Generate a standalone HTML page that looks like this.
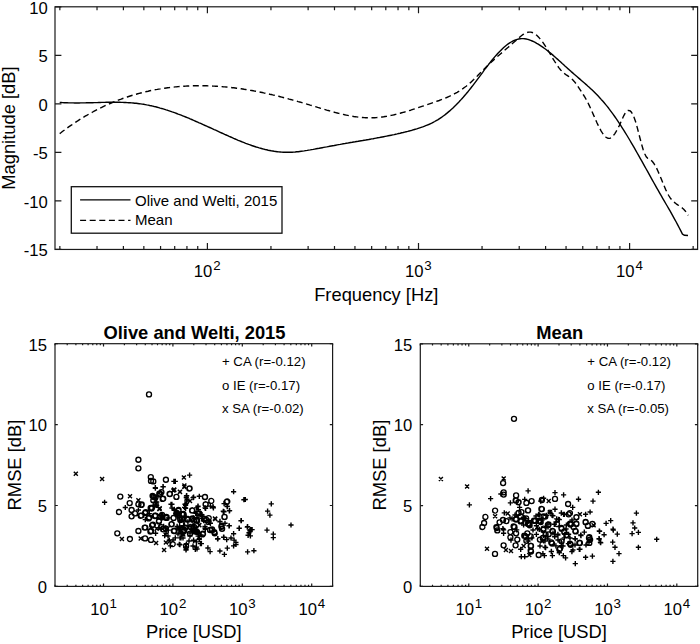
<!DOCTYPE html><html><head><meta charset="utf-8"><style>html,body{margin:0;padding:0;background:#fff}svg{display:block}text{font-family:"Liberation Sans",sans-serif;fill:#000}</style></head><body>
<svg width="700" height="644" viewBox="0 0 700 644">
<rect width="700" height="644" fill="#fff"/>
<rect x="55" y="6.8" width="642.6" height="242.65" fill="none" stroke="#1a1a1a" stroke-width="1.2"/>
<path d="M55 249.45h6.4M697.6 249.45h-6.4M55 200.92h6.4M697.6 200.92h-6.4M55 152.39h6.4M697.6 152.39h-6.4M55 103.86h6.4M697.6 103.86h-6.4M55 55.33h6.4M697.6 55.33h-6.4M55 6.8h6.4M697.6 6.8h-6.4M59.85 249.45v-3.5M59.85 6.8v3.5M97.02 249.45v-3.5M97.02 6.8v3.5M123.39 249.45v-3.5M123.39 6.8v3.5M143.85 249.45v-3.5M143.85 6.8v3.5M160.57 249.45v-3.5M160.57 6.8v3.5M174.7 249.45v-3.5M174.7 6.8v3.5M186.94 249.45v-3.5M186.94 6.8v3.5M197.74 249.45v-3.5M197.74 6.8v3.5M207.4 249.45v-6.4M207.4 6.8v6.4M270.95 249.45v-3.5M270.95 6.8v3.5M308.12 249.45v-3.5M308.12 6.8v3.5M334.49 249.45v-3.5M334.49 6.8v3.5M354.95 249.45v-3.5M354.95 6.8v3.5M371.67 249.45v-3.5M371.67 6.8v3.5M385.8 249.45v-3.5M385.8 6.8v3.5M398.04 249.45v-3.5M398.04 6.8v3.5M408.84 249.45v-3.5M408.84 6.8v3.5M418.5 249.45v-6.4M418.5 6.8v6.4M482.05 249.45v-3.5M482.05 6.8v3.5M519.22 249.45v-3.5M519.22 6.8v3.5M545.59 249.45v-3.5M545.59 6.8v3.5M566.05 249.45v-3.5M566.05 6.8v3.5M582.77 249.45v-3.5M582.77 6.8v3.5M596.9 249.45v-3.5M596.9 6.8v3.5M609.14 249.45v-3.5M609.14 6.8v3.5M619.94 249.45v-3.5M619.94 6.8v3.5M629.6 249.45v-6.4M629.6 6.8v6.4M693.15 249.45v-3.5M693.15 6.8v3.5" fill="none" stroke="#1a1a1a" stroke-width="1.2"/>
<text x="47.8" y="256.25" font-size="16.67" text-anchor="end">-15</text>
<text x="47.8" y="207.72" font-size="16.67" text-anchor="end">-10</text>
<text x="47.8" y="159.19" font-size="16.67" text-anchor="end">-5</text>
<text x="47.8" y="110.66" font-size="16.67" text-anchor="end">0</text>
<text x="47.8" y="62.13" font-size="16.67" text-anchor="end">5</text>
<text x="47.8" y="13.6" font-size="16.67" text-anchor="end">10</text>
<text x="212.4" y="277.15" font-size="16.67" text-anchor="end">10</text><text x="213.2" y="269.75" font-size="13.3">2</text>
<text x="423.5" y="277.15" font-size="16.67" text-anchor="end">10</text><text x="424.3" y="269.75" font-size="13.3">3</text>
<text x="634.6" y="277.15" font-size="16.67" text-anchor="end">10</text><text x="635.4" y="269.75" font-size="13.3">4</text>
<text x="376.3" y="301" font-size="18.33" text-anchor="middle">Frequency [Hz]</text>
<text transform="translate(15.2 128.12) rotate(-90)" font-size="18.33" text-anchor="middle">Magnitude [dB]</text>
<path d="M59.7 102.4 61.2 102.5 62.7 102.6 64.2 102.7 65.7 102.7 67.2 102.8 68.7 102.9 70.2 102.9 71.7 102.9 73.2 102.9 74.7 103.0 76.2 103.0 77.7 103.0 79.2 103.0 80.7 102.9 82.2 102.9 83.7 102.9 85.2 102.9 86.7 102.8 88.2 102.8 89.7 102.8 91.2 102.7 92.7 102.7 94.2 102.6 95.7 102.6 97.2 102.6 98.7 102.5 100.2 102.5 101.7 102.4 103.2 102.4 104.7 102.4 106.2 102.3 107.7 102.3 109.2 102.3 110.7 102.3 112.2 102.3 113.7 102.3 115.2 102.3 116.7 102.3 118.2 102.3 119.7 102.3 121.2 102.4 122.7 102.4 124.2 102.5 125.7 102.5 127.2 102.6 128.7 102.7 130.2 102.8 131.7 102.9 133.2 103.0 134.7 103.2 136.2 103.3 137.7 103.5 139.2 103.7 140.7 103.9 142.2 104.1 143.7 104.3 145.2 104.6 146.7 104.9 148.2 105.1 149.7 105.5 151.2 105.8 152.7 106.1 154.2 106.5 155.7 106.8 157.2 107.2 158.7 107.6 160.2 108.1 161.7 108.5 163.2 108.9 164.7 109.4 166.2 109.9 167.7 110.3 169.2 110.8 170.7 111.3 172.2 111.9 173.7 112.4 175.2 112.9 176.7 113.5 178.2 114.1 179.7 114.6 181.2 115.2 182.7 115.8 184.2 116.4 185.7 117.0 187.2 117.6 188.7 118.2 190.2 118.9 191.7 119.5 193.2 120.2 194.7 120.8 196.2 121.5 197.7 122.1 199.2 122.8 200.7 123.4 202.2 124.1 203.7 124.8 205.2 125.5 206.7 126.1 208.2 126.8 209.7 127.5 211.2 128.2 212.7 128.9 214.2 129.6 215.7 130.2 217.2 130.9 218.7 131.6 220.2 132.3 221.7 133.0 223.2 133.7 224.7 134.4 226.2 135.0 227.7 135.7 229.2 136.4 230.7 137.0 232.2 137.7 233.7 138.4 235.2 139.0 236.7 139.6 238.2 140.3 239.7 140.9 241.2 141.5 242.7 142.1 244.2 142.7 245.7 143.3 247.2 143.8 248.7 144.4 250.2 144.9 251.7 145.5 253.2 146.0 254.7 146.5 256.2 147.0 257.7 147.4 259.2 147.9 260.7 148.3 262.2 148.7 263.7 149.1 265.2 149.5 266.7 149.8 268.2 150.2 269.7 150.5 271.2 150.8 272.7 151.0 274.2 151.3 275.7 151.5 277.2 151.7 278.7 151.9 280.2 152.0 281.7 152.1 283.2 152.2 284.7 152.3 286.2 152.3 287.7 152.3 289.2 152.3 290.7 152.2 292.2 152.2 293.7 152.1 295.2 152.0 296.7 151.8 298.2 151.7 299.7 151.5 301.2 151.3 302.7 151.1 304.2 150.9 305.7 150.6 307.2 150.4 308.7 150.1 310.2 149.9 311.7 149.6 313.2 149.4 314.7 149.1 316.2 148.8 317.7 148.5 319.2 148.3 320.7 148.0 322.2 147.7 323.7 147.4 325.2 147.1 326.7 146.9 328.2 146.6 329.7 146.3 331.2 146.0 332.7 145.7 334.2 145.5 335.7 145.2 337.2 144.9 338.7 144.6 340.2 144.4 341.7 144.1 343.2 143.8 344.7 143.6 346.2 143.3 347.7 143.1 349.2 142.8 350.7 142.5 352.2 142.3 353.7 142.0 355.2 141.8 356.7 141.5 358.2 141.3 359.7 141.0 361.2 140.7 362.7 140.5 364.2 140.2 365.7 140.0 367.2 139.7 368.7 139.5 370.2 139.2 371.7 138.9 373.2 138.7 374.7 138.4 376.2 138.1 377.7 137.8 379.2 137.6 380.7 137.3 382.2 137.0 383.7 136.7 385.2 136.4 386.7 136.1 388.2 135.8 389.7 135.5 391.2 135.2 392.7 134.9 394.2 134.6 395.7 134.2 397.2 133.9 398.7 133.5 400.2 133.2 401.7 132.8 403.2 132.5 404.7 132.1 406.2 131.7 407.7 131.4 409.2 131.0 410.7 130.6 412.2 130.2 413.7 129.7 415.2 129.3 416.7 128.9 418.2 128.4 419.7 127.9 421.2 127.4 422.7 126.9 424.2 126.3 425.7 125.7 427.2 125.1 428.7 124.5 430.2 123.8 431.7 123.1 433.2 122.3 434.7 121.5 436.2 120.6 437.7 119.8 439.2 118.8 440.7 117.8 442.2 116.8 443.7 115.7 445.2 114.6 446.7 113.4 448.2 112.1 449.7 110.9 451.2 109.5 452.7 108.2 454.2 106.7 455.7 105.3 457.2 103.7 458.7 102.2 460.2 100.6 461.7 98.9 463.2 97.3 464.7 95.5 466.2 93.8 467.7 92.0 469.2 90.1 470.7 88.2 472.2 86.3 473.7 84.3 475.2 82.3 476.7 80.3 478.2 78.3 479.7 76.3 481.2 74.3 482.7 72.3 484.2 70.2 485.7 68.2 487.2 66.3 488.7 64.3 490.2 62.4 491.7 60.5 493.2 58.7 494.7 56.9 496.2 55.2 497.7 53.5 499.2 51.9 500.7 50.4 502.2 48.9 503.7 47.5 505.2 46.2 506.7 45.0 508.2 43.9 509.7 42.9 511.2 42.0 512.7 41.2 514.2 40.5 515.7 39.9 517.2 39.4 518.7 39.0 520.2 38.8 521.7 38.6 523.2 38.6 524.7 38.8 526.2 39.0 527.7 39.4 529.2 39.8 530.7 40.4 532.2 41.0 533.7 41.7 535.2 42.4 536.7 43.3 538.2 44.1 539.7 45.1 541.2 46.1 542.7 47.1 544.2 48.2 545.7 49.3 547.2 50.5 548.7 51.7 550.2 52.9 551.7 54.1 553.2 55.4 554.7 56.7 556.2 58.1 557.7 59.4 559.2 60.7 560.7 62.1 562.2 63.5 563.7 64.8 565.2 66.2 566.7 67.5 568.2 68.9 569.7 70.2 571.2 71.6 572.7 72.9 574.2 74.2 575.7 75.5 577.2 76.8 578.7 78.1 580.2 79.4 581.7 80.7 583.2 82.0 584.7 83.3 586.2 84.6 587.7 86.0 589.2 87.3 590.7 88.7 592.2 90.1 593.7 91.6 595.2 93.1 596.7 94.6 598.2 96.1 599.7 97.7 601.2 99.4 602.7 101.0 604.2 102.8 605.7 104.6 607.2 106.4 608.7 108.3 610.2 110.3 611.7 112.3 613.2 114.3 614.7 116.5 616.2 118.6 617.7 120.8 619.2 123.1 620.7 125.4 622.2 127.8 623.7 130.1 625.2 132.6 626.7 135.0 628.2 137.5 629.7 140.0 631.2 142.6 632.7 145.1 634.2 147.7 635.7 150.3 637.2 153.0 638.7 155.6 640.2 158.3 641.7 160.9 643.2 163.6 644.7 166.3 646.2 169.0 647.7 171.7 649.2 174.4 650.7 177.1 652.2 179.8 653.7 182.5 655.2 185.1 656.7 187.8 658.2 190.4 659.7 193.1 661.2 195.7 662.7 198.3 664.2 200.9 665.7 203.5 667.2 206.0 668.7 208.6 670.2 211.2 671.7 213.9 673.2 216.6 674.7 219.3 676.2 222.0 677.7 224.8 679.2 227.7 680.7 230.6 682.2 233.6 682.5 234.2 L684.5 235.3 L688 235.5" fill="none" stroke="#000" stroke-width="1.4" stroke-linejoin="round"/>
<path d="M59.7 133.6 61.2 132.5 62.7 131.3 64.2 130.2 65.7 129.1 67.2 128.0 68.7 126.9 70.2 125.9 71.7 124.9 73.2 123.8 74.7 122.8 76.2 121.8 77.7 120.9 79.2 119.9 80.7 119.0 82.2 118.0 83.7 117.1 85.2 116.2 86.7 115.4 88.2 114.5 89.7 113.6 91.2 112.8 92.7 112.0 94.2 111.2 95.7 110.4 97.2 109.6 98.7 108.8 100.2 108.1 101.7 107.4 103.2 106.6 104.7 105.9 106.2 105.2 107.7 104.6 109.2 103.9 110.7 103.3 112.2 102.6 113.7 102.0 115.2 101.4 116.7 100.8 118.2 100.2 119.7 99.6 121.2 99.1 122.7 98.5 124.2 98.0 125.7 97.5 127.2 97.0 128.7 96.5 130.2 96.0 131.7 95.5 133.2 95.1 134.7 94.6 136.2 94.2 137.7 93.8 139.2 93.4 140.7 93.0 142.2 92.6 143.7 92.2 145.2 91.9 146.7 91.5 148.2 91.2 149.7 90.8 151.2 90.5 152.7 90.2 154.2 89.9 155.7 89.6 157.2 89.4 158.7 89.1 160.2 88.9 161.7 88.6 163.2 88.4 164.7 88.2 166.2 88.0 167.7 87.8 169.2 87.6 170.7 87.4 172.2 87.2 173.7 87.1 175.2 86.9 176.7 86.8 178.2 86.6 179.7 86.5 181.2 86.4 182.7 86.3 184.2 86.2 185.7 86.1 187.2 86.0 188.7 86.0 190.2 85.9 191.7 85.9 193.2 85.8 194.7 85.8 196.2 85.8 197.7 85.8 199.2 85.7 200.7 85.8 202.2 85.8 203.7 85.8 205.2 85.8 206.7 85.8 208.2 85.9 209.7 85.9 211.2 86.0 212.7 86.1 214.2 86.1 215.7 86.2 217.2 86.3 218.7 86.4 220.2 86.5 221.7 86.6 223.2 86.8 224.7 86.9 226.2 87.0 227.7 87.2 229.2 87.3 230.7 87.5 232.2 87.7 233.7 87.8 235.2 88.0 236.7 88.2 238.2 88.4 239.7 88.6 241.2 88.8 242.7 89.0 244.2 89.3 245.7 89.5 247.2 89.7 248.7 90.0 250.2 90.3 251.7 90.5 253.2 90.8 254.7 91.1 256.2 91.3 257.7 91.6 259.2 91.9 260.7 92.2 262.2 92.5 263.7 92.9 265.2 93.2 266.7 93.5 268.2 93.8 269.7 94.2 271.2 94.5 272.7 94.9 274.2 95.2 275.7 95.6 277.2 96.0 278.7 96.3 280.2 96.7 281.7 97.1 283.2 97.5 284.7 97.9 286.2 98.2 287.7 98.6 289.2 99.1 290.7 99.5 292.2 99.9 293.7 100.3 295.2 100.7 296.7 101.1 298.2 101.6 299.7 102.0 301.2 102.4 302.7 102.9 304.2 103.3 305.7 103.7 307.2 104.2 308.7 104.6 310.2 105.1 311.7 105.5 313.2 106.0 314.7 106.5 316.2 106.9 317.7 107.4 319.2 107.8 320.7 108.3 322.2 108.7 323.7 109.2 325.2 109.6 326.7 110.1 328.2 110.5 329.7 110.9 331.2 111.4 332.7 111.8 334.2 112.2 335.7 112.6 337.2 113.0 338.7 113.4 340.2 113.7 341.7 114.1 343.2 114.4 344.7 114.8 346.2 115.1 347.7 115.4 349.2 115.7 350.7 116.0 352.2 116.2 353.7 116.5 355.2 116.7 356.7 116.9 358.2 117.1 359.7 117.3 361.2 117.4 362.7 117.5 364.2 117.6 365.7 117.7 367.2 117.8 368.7 117.8 370.2 117.8 371.7 117.8 373.2 117.7 374.7 117.7 376.2 117.6 377.7 117.5 379.2 117.3 380.7 117.2 382.2 117.0 383.7 116.8 385.2 116.5 386.7 116.3 388.2 116.0 389.7 115.7 391.2 115.4 392.7 115.1 394.2 114.8 395.7 114.4 397.2 114.0 398.7 113.6 400.2 113.2 401.7 112.8 403.2 112.4 404.7 112.0 406.2 111.5 407.7 111.1 409.2 110.6 410.7 110.2 412.2 109.7 413.7 109.2 415.2 108.7 416.7 108.2 418.2 107.7 419.7 107.2 421.2 106.7 422.7 106.2 424.2 105.7 425.7 105.1 427.2 104.6 428.7 104.1 430.2 103.6 431.7 103.1 433.2 102.6 434.7 102.1 436.2 101.5 437.7 101.0 439.2 100.5 440.7 99.9 442.2 99.3 443.7 98.7 445.2 98.1 446.7 97.5 448.2 96.8 449.7 96.2 451.2 95.5 452.7 94.7 454.2 93.9 455.7 93.1 457.2 92.3 458.7 91.4 460.2 90.4 461.7 89.4 463.2 88.4 464.7 87.3 466.2 86.2 467.7 85.0 469.2 83.7 470.7 82.4 472.2 81.0 473.7 79.6 475.2 78.1 476.7 76.7 478.2 75.1 479.7 73.6 481.2 72.1 482.7 70.5 484.2 69.0 485.7 67.5 487.2 66.0 488.7 64.6 490.2 63.1 491.7 61.7 493.2 60.4 494.7 59.0 496.2 57.7 497.7 56.3 499.2 55.0 500.7 53.7 502.2 52.4 503.7 51.1 505.2 49.8 506.7 48.5 508.2 47.3 509.7 46.0 511.2 44.7 512.7 43.3 514.2 42.0 515.7 40.7 517.2 39.3 518.7 38.0 520.2 36.7 521.7 35.5 523.2 34.4 524.7 33.5 526.2 32.8 527.7 32.3 529.2 32.1 530.7 32.1 532.2 32.5 533.7 33.2 535.2 34.1 536.7 35.3 538.2 36.7 539.7 38.4 541.2 40.2 542.7 42.2 544.2 44.4 545.7 46.6 547.2 49.0 548.7 51.5 550.2 54.0 551.7 56.6 553.2 59.1 554.7 61.5 556.2 63.9 557.7 66.1 559.2 68.1 560.7 70.0 562.2 71.6 563.7 72.9 565.2 74.1 566.7 75.2 568.2 76.2 569.7 77.2 571.2 78.4 572.7 79.8 574.2 81.4 575.7 83.3 577.2 85.4 578.7 87.7 580.2 89.9 581.7 92.2 583.2 94.5 584.7 96.9 586.2 99.5 587.7 102.3 589.2 105.4 590.7 108.6 592.2 112.0 593.7 115.4 595.2 118.8 596.7 122.2 598.2 125.4 599.7 128.4 601.2 131.1 602.7 133.5 604.2 135.5 605.7 137.0 607.2 138.0 608.7 138.4 610.2 138.2 611.7 137.3 613.2 135.8 614.7 133.8 616.2 131.4 617.7 128.7 619.2 125.7 620.7 122.4 622.2 119.1 623.7 115.8 625.2 113.1 626.7 111.2 628.2 110.4 629.7 110.6 631.2 111.9 632.7 114.2 634.2 117.7 635.7 122.1 637.2 127.4 638.7 133.2 640.2 139.0 641.7 144.6 643.2 149.7 644.7 153.8 646.2 156.7 647.7 158.3 649.2 159.3 650.7 160.1 652.2 161.3 653.7 163.2 655.2 165.6 656.7 168.4 658.2 171.7 659.7 175.2 661.2 178.8 662.7 182.5 664.2 186.1 665.7 189.6 667.2 192.7 668.7 195.5 670.2 197.9 671.7 199.8 673.2 201.3 674.7 202.6 676.2 203.8 677.7 204.8 679.2 205.7 680.7 206.8 682.2 207.9 683.7 209.3 685.2 210.9 686.7 212.9 688.2 215.4" fill="none" stroke="#000" stroke-width="1.4" stroke-dasharray="6 3.6" stroke-linejoin="round"/>
<rect x="71.3" y="186.7" width="210.7" height="46.5" fill="#fff" stroke="#111" stroke-width="1.3"/>
<path d="M80.1 199.8H130.5" stroke="#000" stroke-width="1.3"/>
<path d="M80.1 220.3H130.5" stroke="#000" stroke-width="1.3" stroke-dasharray="6 3.6"/>
<text x="135" y="205.6" font-size="15">Olive and Welti, 2015</text>
<text x="135" y="225.4" font-size="15">Mean</text>
<rect x="55" y="343.7" width="277.6" height="242.7" fill="none" stroke="#1a1a1a" stroke-width="1.2"/>
<path d="M55 586.4h2.8M332.6 586.4h-2.8M55 505.5h2.8M332.6 505.5h-2.8M55 424.6h2.8M332.6 424.6h-2.8M55 343.7h2.8M332.6 343.7h-2.8M55 586.4v-1.6M55 343.7v1.6M67.22 586.4v-1.6M67.22 343.7v1.6M75.89 586.4v-1.6M75.89 343.7v1.6M82.62 586.4v-1.6M82.62 343.7v1.6M88.11 586.4v-1.6M88.11 343.7v1.6M92.76 586.4v-1.6M92.76 343.7v1.6M96.78 586.4v-1.6M96.78 343.7v1.6M100.33 586.4v-1.6M100.33 343.7v1.6M103.51 586.4v-2.8M103.51 343.7v2.8M124.4 586.4v-1.6M124.4 343.7v1.6M136.62 586.4v-1.6M136.62 343.7v1.6M145.29 586.4v-1.6M145.29 343.7v1.6M152.02 586.4v-1.6M152.02 343.7v1.6M157.51 586.4v-1.6M157.51 343.7v1.6M162.16 586.4v-1.6M162.16 343.7v1.6M166.18 586.4v-1.6M166.18 343.7v1.6M169.73 586.4v-1.6M169.73 343.7v1.6M172.91 586.4v-2.8M172.91 343.7v2.8M193.8 586.4v-1.6M193.8 343.7v1.6M206.02 586.4v-1.6M206.02 343.7v1.6M214.69 586.4v-1.6M214.69 343.7v1.6M221.42 586.4v-1.6M221.42 343.7v1.6M226.91 586.4v-1.6M226.91 343.7v1.6M231.56 586.4v-1.6M231.56 343.7v1.6M235.58 586.4v-1.6M235.58 343.7v1.6M239.13 586.4v-1.6M239.13 343.7v1.6M242.31 586.4v-2.8M242.31 343.7v2.8M263.2 586.4v-1.6M263.2 343.7v1.6M275.42 586.4v-1.6M275.42 343.7v1.6M284.09 586.4v-1.6M284.09 343.7v1.6M290.82 586.4v-1.6M290.82 343.7v1.6M296.31 586.4v-1.6M296.31 343.7v1.6M300.96 586.4v-1.6M300.96 343.7v1.6M304.98 586.4v-1.6M304.98 343.7v1.6M308.53 586.4v-1.6M308.53 343.7v1.6M311.71 586.4v-2.8M311.71 343.7v2.8M332.6 586.4v-1.6M332.6 343.7v1.6" fill="none" stroke="#1a1a1a" stroke-width="1.2"/>
<text x="47" y="593.2" font-size="16.67" text-anchor="end">0</text>
<text x="47" y="512.3" font-size="16.67" text-anchor="end">5</text>
<text x="47" y="431.4" font-size="16.67" text-anchor="end">10</text>
<text x="47" y="350.5" font-size="16.67" text-anchor="end">15</text>
<text x="108.71" y="614.6" font-size="16.67" text-anchor="end">10</text><text x="109.51" y="608" font-size="13.3">1</text>
<text x="178.11" y="614.6" font-size="16.67" text-anchor="end">10</text><text x="178.91" y="608" font-size="13.3">2</text>
<text x="247.51" y="614.6" font-size="16.67" text-anchor="end">10</text><text x="248.31" y="608" font-size="13.3">3</text>
<text x="316.91" y="614.6" font-size="16.67" text-anchor="end">10</text><text x="317.71" y="608" font-size="13.3">4</text>
<text x="193.8" y="638.4" font-size="18.33" text-anchor="middle">Price [USD]</text>
<text transform="translate(21 465.05) rotate(-90)" font-size="18.33" text-anchor="middle">RMSE [dB]</text>
<text x="194.5" y="339" font-size="18.33" font-weight="bold" text-anchor="middle">Olive and Welti, 2015</text>
<text x="222" y="365.7" font-size="13.2">+ CA (r=-0.12)</text>
<text x="222" y="389.5" font-size="13.2">o IE (r=-0.17)</text>
<text x="222" y="413.3" font-size="13.2">x SA (r=-0.02)</text>
<rect x="420.3" y="343.8" width="277.4" height="242.6" fill="none" stroke="#1a1a1a" stroke-width="1.2"/>
<path d="M420.3 586.4h2.8M697.7 586.4h-2.8M420.3 505.53h2.8M697.7 505.53h-2.8M420.3 424.67h2.8M697.7 424.67h-2.8M420.3 343.8h2.8M697.7 343.8h-2.8M420.3 586.4v-1.6M420.3 343.8v1.6M432.51 586.4v-1.6M432.51 343.8v1.6M441.18 586.4v-1.6M441.18 343.8v1.6M447.9 586.4v-1.6M447.9 343.8v1.6M453.39 586.4v-1.6M453.39 343.8v1.6M458.03 586.4v-1.6M458.03 343.8v1.6M462.05 586.4v-1.6M462.05 343.8v1.6M465.6 586.4v-1.6M465.6 343.8v1.6M468.77 586.4v-2.8M468.77 343.8v2.8M489.65 586.4v-1.6M489.65 343.8v1.6M501.86 586.4v-1.6M501.86 343.8v1.6M510.53 586.4v-1.6M510.53 343.8v1.6M517.25 586.4v-1.6M517.25 343.8v1.6M522.74 586.4v-1.6M522.74 343.8v1.6M527.38 586.4v-1.6M527.38 343.8v1.6M531.4 586.4v-1.6M531.4 343.8v1.6M534.95 586.4v-1.6M534.95 343.8v1.6M538.12 586.4v-2.8M538.12 343.8v2.8M559 586.4v-1.6M559 343.8v1.6M571.21 586.4v-1.6M571.21 343.8v1.6M579.88 586.4v-1.6M579.88 343.8v1.6M586.6 586.4v-1.6M586.6 343.8v1.6M592.09 586.4v-1.6M592.09 343.8v1.6M596.73 586.4v-1.6M596.73 343.8v1.6M600.75 586.4v-1.6M600.75 343.8v1.6M604.3 586.4v-1.6M604.3 343.8v1.6M607.47 586.4v-2.8M607.47 343.8v2.8M628.35 586.4v-1.6M628.35 343.8v1.6M640.56 586.4v-1.6M640.56 343.8v1.6M649.23 586.4v-1.6M649.23 343.8v1.6M655.95 586.4v-1.6M655.95 343.8v1.6M661.44 586.4v-1.6M661.44 343.8v1.6M666.08 586.4v-1.6M666.08 343.8v1.6M670.1 586.4v-1.6M670.1 343.8v1.6M673.65 586.4v-1.6M673.65 343.8v1.6M676.82 586.4v-2.8M676.82 343.8v2.8M697.7 586.4v-1.6M697.7 343.8v1.6" fill="none" stroke="#1a1a1a" stroke-width="1.2"/>
<text x="412.3" y="593.2" font-size="16.67" text-anchor="end">0</text>
<text x="412.3" y="512.33" font-size="16.67" text-anchor="end">5</text>
<text x="412.3" y="431.47" font-size="16.67" text-anchor="end">10</text>
<text x="412.3" y="350.6" font-size="16.67" text-anchor="end">15</text>
<text x="473.97" y="614.6" font-size="16.67" text-anchor="end">10</text><text x="474.77" y="608" font-size="13.3">1</text>
<text x="543.32" y="614.6" font-size="16.67" text-anchor="end">10</text><text x="544.12" y="608" font-size="13.3">2</text>
<text x="612.67" y="614.6" font-size="16.67" text-anchor="end">10</text><text x="613.47" y="608" font-size="13.3">3</text>
<text x="682.02" y="614.6" font-size="16.67" text-anchor="end">10</text><text x="682.82" y="608" font-size="13.3">4</text>
<text x="559" y="638.4" font-size="18.33" text-anchor="middle">Price [USD]</text>
<text transform="translate(386.3 465.1) rotate(-90)" font-size="18.33" text-anchor="middle">RMSE [dB]</text>
<text x="559.7" y="339" font-size="18.33" font-weight="bold" text-anchor="middle">Mean</text>
<text x="587.3" y="365.7" font-size="13.2">+ CA (r=-0.12)</text>
<text x="587.3" y="389.5" font-size="13.2">o IE (r=-0.17)</text>
<text x="587.3" y="413.3" font-size="13.2">x SA (r=-0.05)</text>
<path d="M102.0 502.3h5.2M104.6 499.7v5.2M152.7 487.7h5.2M155.3 485.1v5.2M160.4 486.6h5.2M163.0 484.0v5.2M171.3 481.4h5.2M173.9 478.8v5.2M122.7 507.5h5.2M125.3 504.9v5.2M135.8 510.0h5.2M138.4 507.4v5.2M154.1 502.0h5.2M156.7 499.4v5.2M154.1 505.4h5.2M156.7 502.8v5.2M159.8 515.1h5.2M162.4 512.5v5.2M168.4 504.3h5.2M171.0 501.7v5.2M187.0 475.1h5.2M189.6 472.5v5.2M172.7 481.4h5.2M175.3 478.8v5.2M184.1 495.7h5.2M186.7 493.1v5.2M191.0 497.4h5.2M193.6 494.8v5.2M196.7 496.3h5.2M199.3 493.7v5.2M231.0 491.7h5.2M233.6 489.1v5.2M184.1 500.9h5.2M186.7 498.3v5.2M183.0 505.4h5.2M185.6 502.8v5.2M169.3 504.3h5.2M171.9 501.7v5.2M210.4 506.6h5.2M213.0 504.0v5.2M203.0 508.3h5.2M205.6 505.7v5.2M195.5 506.6h5.2M198.1 504.0v5.2M224.7 506.6h5.2M227.3 504.0v5.2M227.0 510.6h5.2M229.6 508.0v5.2M221.3 511.7h5.2M223.9 509.1v5.2M183.0 508.3h5.2M185.6 505.7v5.2M193.3 513.4h5.2M195.9 510.8v5.2M241.3 499.7h5.2M243.9 497.1v5.2M242.7 499.5h5.2M245.3 496.9v5.2M268.7 503.9h5.2M271.3 501.3v5.2M265.0 511.1h5.2M267.6 508.5v5.2M267.3 515.1h5.2M269.9 512.5v5.2M153.0 533.3h5.2M155.6 530.7v5.2M142.7 519.6h5.2M145.3 517.0v5.2M158.7 528.7h5.2M161.3 526.1v5.2M162.1 535.6h5.2M164.7 533.0v5.2M166.7 540.1h5.2M169.3 537.5v5.2M167.8 545.9h5.2M170.4 543.3v5.2M161.0 526.4h5.2M163.6 523.8v5.2M238.4 520.7h5.2M241.0 518.1v5.2M236.7 528.1h5.2M239.3 525.5v5.2M226.4 525.9h5.2M229.0 523.3v5.2M217.3 521.9h5.2M219.9 519.3v5.2M215.0 539.0h5.2M217.6 536.4v5.2M221.3 537.3h5.2M223.9 534.7v5.2M224.1 539.6h5.2M226.7 537.0v5.2M231.0 533.9h5.2M233.6 531.3v5.2M231.5 540.1h5.2M234.1 537.5v5.2M233.3 542.4h5.2M235.9 539.8v5.2M231.0 545.9h5.2M233.6 543.3v5.2M224.7 548.1h5.2M227.3 545.5v5.2M217.3 551.0h5.2M219.9 548.4v5.2M221.8 554.4h5.2M224.4 551.8v5.2M205.3 548.1h5.2M207.9 545.5v5.2M207.5 551.6h5.2M210.1 549.0v5.2M192.7 549.3h5.2M195.3 546.7v5.2M193.8 541.9h5.2M196.4 539.3v5.2M191.0 540.1h5.2M193.6 537.5v5.2M197.8 543.6h5.2M200.4 541.0v5.2M183.0 547.0h5.2M185.6 544.4v5.2M183.5 549.3h5.2M186.1 546.7v5.2M177.3 544.7h5.2M179.9 542.1v5.2M172.7 537.9h5.2M175.3 535.3v5.2M178.4 537.9h5.2M181.0 535.3v5.2M202.4 526.4h5.2M205.0 523.8v5.2M195.5 536.1h5.2M198.1 533.5v5.2M196.7 539.6h5.2M199.3 537.0v5.2M185.3 521.9h5.2M187.9 519.3v5.2M187.5 526.4h5.2M190.1 523.8v5.2M177.3 527.6h5.2M179.9 525.0v5.2M200.1 518.4h5.2M202.7 515.8v5.2M163.5 533.3h5.2M166.1 530.7v5.2M245.0 526.7h5.2M247.6 524.1v5.2M249.5 529.6h5.2M252.1 527.0v5.2M247.3 530.7h5.2M249.9 528.1v5.2M245.5 535.3h5.2M248.1 532.7v5.2M247.8 535.9h5.2M250.4 533.3v5.2M264.4 530.1h5.2M267.0 527.5v5.2M270.7 534.1h5.2M273.3 531.5v5.2M270.7 537.6h5.2M273.3 535.0v5.2M288.4 525.0h5.2M291.0 522.4v5.2M245.0 551.9h5.2M247.6 549.3v5.2M251.3 550.7h5.2M253.9 548.1v5.2M152.8 504.9h5.2M155.4 502.3v5.2M168.7 504.4h5.2M171.3 501.8v5.2M183.7 497.6h5.2M186.3 495.0v5.2M183.7 503.6h5.2M186.3 501.0v5.2M182.0 507.4h5.2M184.6 504.8v5.2M190.5 497.6h5.2M193.1 495.0v5.2M194.0 507.9h5.2M196.6 505.3v5.2M156.3 527.6h5.2M158.9 525.0v5.2M165.7 530.1h5.2M168.3 527.5v5.2M171.7 510.4h5.2M174.3 507.8v5.2M182.0 516.4h5.2M184.6 513.8v5.2M177.7 529.3h5.2M180.3 526.7v5.2M202.7 507.9h5.2M205.3 505.3v5.2M207.8 506.1h5.2M210.4 503.5v5.2M210.8 507.9h5.2M213.4 505.3v5.2M221.5 503.6h5.2M224.1 501.0v5.2M224.5 506.1h5.2M227.1 503.5v5.2M226.7 510.9h5.2M229.3 508.3v5.2M220.7 511.3h5.2M223.3 508.7v5.2M238.7 520.7h5.2M241.3 518.1v5.2M236.5 528.4h5.2M239.1 525.8v5.2M244.7 527.1h5.2M247.3 524.5v5.2M248.1 529.7h5.2M250.7 527.1v5.2M246.4 532.7h5.2M249.0 530.1v5.2M217.3 521.6h5.2M219.9 519.0v5.2M222.4 523.3h5.2M225.0 520.7v5.2M226.7 525.8h5.2M229.3 523.2v5.2M195.4 506.1h5.2M198.0 503.5v5.2M195.8 509.6h5.2M198.4 507.0v5.2M199.3 514.7h5.2M201.9 512.1v5.2M207.8 523.3h5.2M210.4 520.7v5.2M211.3 531.0h5.2M213.9 528.4v5.2M202.7 529.3h5.2M205.3 526.7v5.2M201.0 520.7h5.2M203.6 518.1v5.2M231.0 533.6h5.2M233.6 531.0v5.2M168.8 504.3h5.2M171.4 501.7v5.2M182.4 504.3h5.2M185.0 501.7v5.2M182.8 507.9h5.2M185.4 505.3v5.2M195.3 506.4h5.2M197.9 503.8v5.2M202.4 507.9h5.2M205.0 505.3v5.2M171.7 510.0h5.2M174.3 507.4v5.2M178.8 520.0h5.2M181.4 517.4v5.2M175.3 527.9h5.2M177.9 525.3v5.2M181.0 525.7h5.2M183.6 523.1v5.2M191.0 517.9h5.2M193.6 515.3v5.2M200.3 516.4h5.2M202.9 513.8v5.2M197.4 514.3h5.2M200.0 511.7v5.2M163.1 527.9h5.2M165.7 525.3v5.2M178.8 532.9h5.2M181.4 530.3v5.2M152.8 488.2h5.2M155.4 485.6v5.2M160.6 486.8h5.2M163.2 484.2v5.2M152.4 502.1h5.2M155.0 499.5v5.2M183.8 496.1h5.2M186.4 493.5v5.2M184.5 499.3h5.2M187.1 496.7v5.2M182.8 504.3h5.2M185.4 501.7v5.2M182.8 507.9h5.2M185.4 505.3v5.2M191.0 497.1h5.2M193.6 494.5v5.2M168.8 504.3h5.2M171.4 501.7v5.2M171.7 509.3h5.2M174.3 506.7v5.2M173.1 513.6h5.2M175.7 511.0v5.2M176.7 517.1h5.2M179.3 514.5v5.2M146.7 513.6h5.2M149.3 511.0v5.2M158.8 515.7h5.2M161.4 513.1v5.2M166.0 517.9h5.2M168.6 515.3v5.2M217.4 521.4h5.2M220.0 518.8v5.2M215.3 538.6h5.2M217.9 536.0v5.2M221.0 537.1h5.2M223.6 534.5v5.2M191.0 540.7h5.2M193.6 538.1v5.2M196.7 538.6h5.2M199.3 536.0v5.2M198.8 543.6h5.2M201.4 541.0v5.2M193.8 547.1h5.2M196.4 544.5v5.2M205.3 547.9h5.2M207.9 545.3v5.2M177.4 537.9h5.2M180.0 535.3v5.2M176.7 544.3h5.2M179.3 541.7v5.2M183.8 544.3h5.2M186.4 541.7v5.2M174.5 526.4h5.2M177.1 523.8v5.2M183.4 517.0h5.2M186.0 514.4v5.2M195.4 518.0h5.2M198.0 515.4v5.2M206.4 521.0h5.2M209.0 518.4v5.2M185.4 526.0h5.2M188.0 523.4v5.2M202.4 528.0h5.2M205.0 525.4v5.2M187.4 533.0h5.2M190.0 530.4v5.2M176.4 530.0h5.2M179.0 527.4v5.2M180.4 538.0h5.2M183.0 535.4v5.2M186.4 541.0h5.2M189.0 538.4v5.2M190.4 546.0h5.2M193.0 543.4v5.2M183.4 550.0h5.2M186.0 547.4v5.2M194.4 549.0h5.2M197.0 546.4v5.2M198.4 535.0h5.2M201.0 532.4v5.2M175.4 534.0h5.2M178.0 531.4v5.2M170.4 540.0h5.2M173.0 537.4v5.2M165.4 536.0h5.2M168.0 533.4v5.2M228.4 538.0h5.2M231.0 535.4v5.2M233.4 544.5h5.2M236.0 541.9v5.2M169.4 508.0h5.2M172.0 505.4v5.2M173.4 515.0h5.2M176.0 512.4v5.2M187.4 536.0h5.2M190.0 533.4v5.2M181.4 528.0h5.2M184.0 525.4v5.2M73.8 471.8l4 4M73.8 475.8l4 -4M100.1 477.1l4 4M100.1 481.1l4 -4M128.0 494.3l4 4M128.0 498.3l4 -4M181.9 475.4l4 4M181.9 479.4l4 -4M182.4 483.4l4 4M182.4 487.4l4 -4M172.1 487.4l4 4M172.1 491.4l4 -4M177.9 489.7l4 4M177.9 493.7l4 -4M136.4 498.3l4 4M136.4 502.3l4 -4M157.6 506.9l4 4M157.6 510.9l4 -4M171.3 488.6l4 4M171.3 492.6l4 -4M119.9 537.0l4 4M119.9 541.0l4 -4M138.7 536.4l4 4M138.7 540.4l4 -4M154.1 541.0l4 4M154.1 545.0l4 -4M162.1 547.9l4 4M162.1 551.9l4 -4M154.7 526.7l4 4M154.7 530.7l4 -4M163.9 540.4l4 4M163.9 544.4l4 -4M213.3 517.0l4 4M213.3 521.0l4 -4M167.6 539.3l4 4M167.6 543.3l4 -4M197.3 523.3l4 4M197.3 527.3l4 -4M181.3 532.4l4 4M181.3 536.4l4 -4M165.3 526.7l4 4M165.3 530.7l4 -4M157.7 506.3l4 4M157.7 510.3l4 -4M213.1 517.0l4 4M213.1 521.0l4 -4M197.3 523.0l4 4M197.3 527.0l4 -4M173.7 512.3l4 4M173.7 516.3l4 -4M197.3 523.0l4 4M197.3 527.0l4 -4M157.3 506.9l4 4M157.3 510.9l4 -4M172.3 488.0l4 4M172.3 492.0l4 -4M178.0 490.1l4 4M178.0 494.1l4 -4M182.3 485.1l4 4M182.3 489.1l4 -4M188.0 499.1l4 4M188.0 503.1l4 -4M213.0 516.6l4 4M213.0 520.6l4 -4M197.3 523.0l4 4M197.3 527.0l4 -4" fill="none" stroke="#000" stroke-width="1.4"/>
<path d="M117.8 496.6a2.5 2.5 0 1 0 5 0a2.5 2.5 0 1 0 -5 0M127.2 503.1a2.5 2.5 0 1 0 5 0a2.5 2.5 0 1 0 -5 0M135.9 459.7a2.5 2.5 0 1 0 5 0a2.5 2.5 0 1 0 -5 0M135.9 468.3a2.5 2.5 0 1 0 5 0a2.5 2.5 0 1 0 -5 0M148.3 477.1a2.5 2.5 0 1 0 5 0a2.5 2.5 0 1 0 -5 0M148.5 480.9a2.5 2.5 0 1 0 5 0a2.5 2.5 0 1 0 -5 0M150.8 481.4a2.5 2.5 0 1 0 5 0a2.5 2.5 0 1 0 -5 0M163.4 479.7a2.5 2.5 0 1 0 5 0a2.5 2.5 0 1 0 -5 0M116.5 512.0a2.5 2.5 0 1 0 5 0a2.5 2.5 0 1 0 -5 0M129.1 510.0a2.5 2.5 0 1 0 5 0a2.5 2.5 0 1 0 -5 0M129.1 516.3a2.5 2.5 0 1 0 5 0a2.5 2.5 0 1 0 -5 0M132.5 513.4a2.5 2.5 0 1 0 5 0a2.5 2.5 0 1 0 -5 0M135.9 504.3a2.5 2.5 0 1 0 5 0a2.5 2.5 0 1 0 -5 0M138.8 504.9a2.5 2.5 0 1 0 5 0a2.5 2.5 0 1 0 -5 0M138.2 515.7a2.5 2.5 0 1 0 5 0a2.5 2.5 0 1 0 -5 0M142.8 512.9a2.5 2.5 0 1 0 5 0a2.5 2.5 0 1 0 -5 0M146.8 517.4a2.5 2.5 0 1 0 5 0a2.5 2.5 0 1 0 -5 0M151.4 496.9a2.5 2.5 0 1 0 5 0a2.5 2.5 0 1 0 -5 0M150.8 500.3a2.5 2.5 0 1 0 5 0a2.5 2.5 0 1 0 -5 0M157.6 493.4a2.5 2.5 0 1 0 5 0a2.5 2.5 0 1 0 -5 0M160.5 498.6a2.5 2.5 0 1 0 5 0a2.5 2.5 0 1 0 -5 0M148.5 508.3a2.5 2.5 0 1 0 5 0a2.5 2.5 0 1 0 -5 0M153.1 515.7a2.5 2.5 0 1 0 5 0a2.5 2.5 0 1 0 -5 0M167.4 494.0a2.5 2.5 0 1 0 5 0a2.5 2.5 0 1 0 -5 0M163.9 516.9a2.5 2.5 0 1 0 5 0a2.5 2.5 0 1 0 -5 0M187.1 488.3a2.5 2.5 0 1 0 5 0a2.5 2.5 0 1 0 -5 0M173.9 496.9a2.5 2.5 0 1 0 5 0a2.5 2.5 0 1 0 -5 0M202.5 496.9a2.5 2.5 0 1 0 5 0a2.5 2.5 0 1 0 -5 0M208.8 500.9a2.5 2.5 0 1 0 5 0a2.5 2.5 0 1 0 -5 0M224.8 501.4a2.5 2.5 0 1 0 5 0a2.5 2.5 0 1 0 -5 0M203.1 504.3a2.5 2.5 0 1 0 5 0a2.5 2.5 0 1 0 -5 0M189.9 510.6a2.5 2.5 0 1 0 5 0a2.5 2.5 0 1 0 -5 0M221.9 516.9a2.5 2.5 0 1 0 5 0a2.5 2.5 0 1 0 -5 0M180.8 514.0a2.5 2.5 0 1 0 5 0a2.5 2.5 0 1 0 -5 0M196.8 513.4a2.5 2.5 0 1 0 5 0a2.5 2.5 0 1 0 -5 0M114.8 533.3a2.5 2.5 0 1 0 5 0a2.5 2.5 0 1 0 -5 0M127.4 539.0a2.5 2.5 0 1 0 5 0a2.5 2.5 0 1 0 -5 0M135.9 531.0a2.5 2.5 0 1 0 5 0a2.5 2.5 0 1 0 -5 0M142.6 538.4a2.5 2.5 0 1 0 5 0a2.5 2.5 0 1 0 -5 0M148.5 539.9a2.5 2.5 0 1 0 5 0a2.5 2.5 0 1 0 -5 0M142.8 527.6a2.5 2.5 0 1 0 5 0a2.5 2.5 0 1 0 -5 0M147.9 531.6a2.5 2.5 0 1 0 5 0a2.5 2.5 0 1 0 -5 0M149.6 525.3a2.5 2.5 0 1 0 5 0a2.5 2.5 0 1 0 -5 0M146.2 518.4a2.5 2.5 0 1 0 5 0a2.5 2.5 0 1 0 -5 0M156.5 520.7a2.5 2.5 0 1 0 5 0a2.5 2.5 0 1 0 -5 0M163.4 528.7a2.5 2.5 0 1 0 5 0a2.5 2.5 0 1 0 -5 0M170.2 544.1a2.5 2.5 0 1 0 5 0a2.5 2.5 0 1 0 -5 0M169.1 524.1a2.5 2.5 0 1 0 5 0a2.5 2.5 0 1 0 -5 0M171.4 531.0a2.5 2.5 0 1 0 5 0a2.5 2.5 0 1 0 -5 0M159.9 517.3a2.5 2.5 0 1 0 5 0a2.5 2.5 0 1 0 -5 0M219.1 525.9a2.5 2.5 0 1 0 5 0a2.5 2.5 0 1 0 -5 0M219.6 528.7a2.5 2.5 0 1 0 5 0a2.5 2.5 0 1 0 -5 0M209.4 529.9a2.5 2.5 0 1 0 5 0a2.5 2.5 0 1 0 -5 0M212.2 533.3a2.5 2.5 0 1 0 5 0a2.5 2.5 0 1 0 -5 0M183.6 545.9a2.5 2.5 0 1 0 5 0a2.5 2.5 0 1 0 -5 0M192.8 531.6a2.5 2.5 0 1 0 5 0a2.5 2.5 0 1 0 -5 0M200.2 534.4a2.5 2.5 0 1 0 5 0a2.5 2.5 0 1 0 -5 0M179.6 519.6a2.5 2.5 0 1 0 5 0a2.5 2.5 0 1 0 -5 0M189.9 518.4a2.5 2.5 0 1 0 5 0a2.5 2.5 0 1 0 -5 0M181.9 529.9a2.5 2.5 0 1 0 5 0a2.5 2.5 0 1 0 -5 0M205.9 521.9a2.5 2.5 0 1 0 5 0a2.5 2.5 0 1 0 -5 0M146.5 394.4a2.5 2.5 0 1 0 5 0a2.5 2.5 0 1 0 -5 0M139.2 504.4a2.5 2.5 0 1 0 5 0a2.5 2.5 0 1 0 -5 0M142.6 513.0a2.5 2.5 0 1 0 5 0a2.5 2.5 0 1 0 -5 0M138.8 515.6a2.5 2.5 0 1 0 5 0a2.5 2.5 0 1 0 -5 0M146.5 517.7a2.5 2.5 0 1 0 5 0a2.5 2.5 0 1 0 -5 0M152.5 516.0a2.5 2.5 0 1 0 5 0a2.5 2.5 0 1 0 -5 0M149.5 507.9a2.5 2.5 0 1 0 5 0a2.5 2.5 0 1 0 -5 0M160.2 498.9a2.5 2.5 0 1 0 5 0a2.5 2.5 0 1 0 -5 0M152.9 497.6a2.5 2.5 0 1 0 5 0a2.5 2.5 0 1 0 -5 0M189.8 510.4a2.5 2.5 0 1 0 5 0a2.5 2.5 0 1 0 -5 0M158.1 516.4a2.5 2.5 0 1 0 5 0a2.5 2.5 0 1 0 -5 0M164.1 517.7a2.5 2.5 0 1 0 5 0a2.5 2.5 0 1 0 -5 0M156.4 521.6a2.5 2.5 0 1 0 5 0a2.5 2.5 0 1 0 -5 0M169.2 524.1a2.5 2.5 0 1 0 5 0a2.5 2.5 0 1 0 -5 0M171.8 531.0a2.5 2.5 0 1 0 5 0a2.5 2.5 0 1 0 -5 0M148.6 531.0a2.5 2.5 0 1 0 5 0a2.5 2.5 0 1 0 -5 0M142.2 527.6a2.5 2.5 0 1 0 5 0a2.5 2.5 0 1 0 -5 0M150.4 524.6a2.5 2.5 0 1 0 5 0a2.5 2.5 0 1 0 -5 0M160.6 529.3a2.5 2.5 0 1 0 5 0a2.5 2.5 0 1 0 -5 0M174.3 513.0a2.5 2.5 0 1 0 5 0a2.5 2.5 0 1 0 -5 0M177.8 519.9a2.5 2.5 0 1 0 5 0a2.5 2.5 0 1 0 -5 0M185.5 519.0a2.5 2.5 0 1 0 5 0a2.5 2.5 0 1 0 -5 0M191.5 520.7a2.5 2.5 0 1 0 5 0a2.5 2.5 0 1 0 -5 0M194.1 525.0a2.5 2.5 0 1 0 5 0a2.5 2.5 0 1 0 -5 0M182.9 527.6a2.5 2.5 0 1 0 5 0a2.5 2.5 0 1 0 -5 0M190.6 530.1a2.5 2.5 0 1 0 5 0a2.5 2.5 0 1 0 -5 0M202.4 497.1a2.5 2.5 0 1 0 5 0a2.5 2.5 0 1 0 -5 0M224.2 501.9a2.5 2.5 0 1 0 5 0a2.5 2.5 0 1 0 -5 0M222.1 516.9a2.5 2.5 0 1 0 5 0a2.5 2.5 0 1 0 -5 0M219.1 526.7a2.5 2.5 0 1 0 5 0a2.5 2.5 0 1 0 -5 0M219.5 528.8a2.5 2.5 0 1 0 5 0a2.5 2.5 0 1 0 -5 0M195.5 513.4a2.5 2.5 0 1 0 5 0a2.5 2.5 0 1 0 -5 0M194.2 519.9a2.5 2.5 0 1 0 5 0a2.5 2.5 0 1 0 -5 0M206.2 518.1a2.5 2.5 0 1 0 5 0a2.5 2.5 0 1 0 -5 0M209.6 529.3a2.5 2.5 0 1 0 5 0a2.5 2.5 0 1 0 -5 0M193.4 531.0a2.5 2.5 0 1 0 5 0a2.5 2.5 0 1 0 -5 0M189.6 510.4a2.5 2.5 0 1 0 5 0a2.5 2.5 0 1 0 -5 0M203.2 504.3a2.5 2.5 0 1 0 5 0a2.5 2.5 0 1 0 -5 0M176.1 510.0a2.5 2.5 0 1 0 5 0a2.5 2.5 0 1 0 -5 0M163.9 517.9a2.5 2.5 0 1 0 5 0a2.5 2.5 0 1 0 -5 0M159.6 515.0a2.5 2.5 0 1 0 5 0a2.5 2.5 0 1 0 -5 0M181.1 514.3a2.5 2.5 0 1 0 5 0a2.5 2.5 0 1 0 -5 0M184.6 519.3a2.5 2.5 0 1 0 5 0a2.5 2.5 0 1 0 -5 0M168.9 524.3a2.5 2.5 0 1 0 5 0a2.5 2.5 0 1 0 -5 0M171.8 530.7a2.5 2.5 0 1 0 5 0a2.5 2.5 0 1 0 -5 0M188.2 527.1a2.5 2.5 0 1 0 5 0a2.5 2.5 0 1 0 -5 0M191.8 530.0a2.5 2.5 0 1 0 5 0a2.5 2.5 0 1 0 -5 0M194.6 520.7a2.5 2.5 0 1 0 5 0a2.5 2.5 0 1 0 -5 0M203.9 520.0a2.5 2.5 0 1 0 5 0a2.5 2.5 0 1 0 -5 0M158.9 527.1a2.5 2.5 0 1 0 5 0a2.5 2.5 0 1 0 -5 0M187.5 533.6a2.5 2.5 0 1 0 5 0a2.5 2.5 0 1 0 -5 0M158.9 492.1a2.5 2.5 0 1 0 5 0a2.5 2.5 0 1 0 -5 0M156.8 493.6a2.5 2.5 0 1 0 5 0a2.5 2.5 0 1 0 -5 0M157.8 494.6a2.5 2.5 0 1 0 5 0a2.5 2.5 0 1 0 -5 0M160.7 498.6a2.5 2.5 0 1 0 5 0a2.5 2.5 0 1 0 -5 0M151.1 496.8a2.5 2.5 0 1 0 5 0a2.5 2.5 0 1 0 -5 0M150.1 495.8a2.5 2.5 0 1 0 5 0a2.5 2.5 0 1 0 -5 0M153.2 504.3a2.5 2.5 0 1 0 5 0a2.5 2.5 0 1 0 -5 0M148.2 507.9a2.5 2.5 0 1 0 5 0a2.5 2.5 0 1 0 -5 0M149.0 508.5a2.5 2.5 0 1 0 5 0a2.5 2.5 0 1 0 -5 0M167.1 493.9a2.5 2.5 0 1 0 5 0a2.5 2.5 0 1 0 -5 0M173.9 496.8a2.5 2.5 0 1 0 5 0a2.5 2.5 0 1 0 -5 0M186.8 488.6a2.5 2.5 0 1 0 5 0a2.5 2.5 0 1 0 -5 0M176.1 510.7a2.5 2.5 0 1 0 5 0a2.5 2.5 0 1 0 -5 0M179.6 514.3a2.5 2.5 0 1 0 5 0a2.5 2.5 0 1 0 -5 0M171.1 517.9a2.5 2.5 0 1 0 5 0a2.5 2.5 0 1 0 -5 0M143.2 512.1a2.5 2.5 0 1 0 5 0a2.5 2.5 0 1 0 -5 0M152.5 515.7a2.5 2.5 0 1 0 5 0a2.5 2.5 0 1 0 -5 0M163.2 517.1a2.5 2.5 0 1 0 5 0a2.5 2.5 0 1 0 -5 0M218.9 526.4a2.5 2.5 0 1 0 5 0a2.5 2.5 0 1 0 -5 0M211.8 532.1a2.5 2.5 0 1 0 5 0a2.5 2.5 0 1 0 -5 0M192.5 531.4a2.5 2.5 0 1 0 5 0a2.5 2.5 0 1 0 -5 0M200.4 533.6a2.5 2.5 0 1 0 5 0a2.5 2.5 0 1 0 -5 0M180.4 532.1a2.5 2.5 0 1 0 5 0a2.5 2.5 0 1 0 -5 0M184.6 519.3a2.5 2.5 0 1 0 5 0a2.5 2.5 0 1 0 -5 0M193.9 520.0a2.5 2.5 0 1 0 5 0a2.5 2.5 0 1 0 -5 0M177.5 518.0a2.5 2.5 0 1 0 5 0a2.5 2.5 0 1 0 -5 0M189.5 519.0a2.5 2.5 0 1 0 5 0a2.5 2.5 0 1 0 -5 0M201.5 519.0a2.5 2.5 0 1 0 5 0a2.5 2.5 0 1 0 -5 0M179.5 524.0a2.5 2.5 0 1 0 5 0a2.5 2.5 0 1 0 -5 0M191.5 527.0a2.5 2.5 0 1 0 5 0a2.5 2.5 0 1 0 -5 0M207.5 530.0a2.5 2.5 0 1 0 5 0a2.5 2.5 0 1 0 -5 0M181.5 531.0a2.5 2.5 0 1 0 5 0a2.5 2.5 0 1 0 -5 0M194.5 532.0a2.5 2.5 0 1 0 5 0a2.5 2.5 0 1 0 -5 0M200.5 534.0a2.5 2.5 0 1 0 5 0a2.5 2.5 0 1 0 -5 0" fill="none" stroke="#000" stroke-width="1.35"/>
<path d="M466.8 504.9h5.2M469.4 502.3v5.2M488.0 498.6h5.2M490.6 496.0v5.2M498.3 494.0h5.2M500.9 491.4v5.2M501.7 512.9h5.2M504.3 510.3v5.2M525.5 490.9h5.2M528.1 488.3v5.2M507.8 502.9h5.2M510.4 500.3v5.2M522.1 499.4h5.2M524.7 496.8v5.2M538.1 501.1h5.2M540.7 498.5v5.2M541.0 498.3h5.2M543.6 495.7v5.2M552.4 492.6h5.2M555.0 490.0v5.2M561.0 494.9h5.2M563.6 492.3v5.2M570.1 507.4h5.2M572.7 504.8v5.2M517.0 507.4h5.2M519.6 504.8v5.2M552.4 509.1h5.2M555.0 506.5v5.2M558.7 513.1h5.2M561.3 510.5v5.2M561.0 514.3h5.2M563.6 511.7v5.2M549.5 515.4h5.2M552.1 512.8v5.2M543.8 515.4h5.2M546.4 512.8v5.2M537.0 514.9h5.2M539.6 512.3v5.2M509.5 518.9h5.2M512.1 516.3v5.2M521.5 518.9h5.2M524.1 516.3v5.2M554.1 518.9h5.2M556.7 516.3v5.2M595.8 492.3h5.2M598.4 489.7v5.2M575.9 499.2h5.2M578.5 496.6v5.2M590.4 501.1h5.2M593.0 498.5v5.2M583.0 514.3h5.2M585.6 511.7v5.2M587.5 512.0h5.2M590.1 509.4v5.2M608.1 520.6h5.2M610.7 518.0v5.2M603.5 523.4h5.2M606.1 520.8v5.2M633.8 513.1h5.2M636.4 510.5v5.2M630.4 522.9h5.2M633.0 520.3v5.2M632.1 528.0h5.2M634.7 525.4v5.2M610.4 529.1h5.2M613.0 526.5v5.2M501.0 529.9h5.2M503.6 527.3v5.2M501.0 533.3h5.2M503.6 530.7v5.2M508.4 540.1h5.2M511.0 537.5v5.2M514.1 529.9h5.2M516.7 527.3v5.2M518.7 556.7h5.2M521.3 554.1v5.2M522.1 556.7h5.2M524.7 554.1v5.2M518.1 549.3h5.2M520.7 546.7v5.2M521.0 517.3h5.2M523.6 514.7v5.2M541.8 555.6h5.2M544.4 553.0v5.2M548.7 551.6h5.2M551.3 549.0v5.2M549.8 555.6h5.2M552.4 553.0v5.2M543.0 547.6h5.2M545.6 545.0v5.2M556.7 552.7h5.2M559.3 550.1v5.2M563.0 557.9h5.2M565.6 555.3v5.2M560.7 555.6h5.2M563.3 553.0v5.2M569.3 551.6h5.2M571.9 549.0v5.2M577.3 549.3h5.2M579.9 546.7v5.2M583.0 557.3h5.2M585.6 554.7v5.2M589.8 556.1h5.2M592.4 553.5v5.2M572.7 563.6h5.2M575.3 561.0v5.2M596.7 531.0h5.2M599.3 528.4v5.2M586.4 542.4h5.2M589.0 539.8v5.2M596.7 539.0h5.2M599.3 536.4v5.2M597.8 542.4h5.2M600.4 539.8v5.2M578.4 535.6h5.2M581.0 533.0v5.2M572.7 539.0h5.2M575.3 536.4v5.2M535.0 528.7h5.2M537.6 526.1v5.2M545.3 524.1h5.2M547.9 521.5v5.2M556.7 519.6h5.2M559.3 517.0v5.2M562.4 534.4h5.2M565.0 531.8v5.2M545.3 539.0h5.2M547.9 536.4v5.2M565.8 543.6h5.2M568.4 541.0v5.2M552.1 536.7h5.2M554.7 534.1v5.2M529.3 537.9h5.2M531.9 535.3v5.2M525.8 520.7h5.2M528.4 518.1v5.2M533.8 534.4h5.2M536.4 531.8v5.2M553.3 545.9h5.2M555.9 543.3v5.2M629.5 533.6h5.2M632.1 531.0v5.2M635.8 532.4h5.2M638.4 529.8v5.2M654.1 539.3h5.2M656.7 536.7v5.2M635.8 547.3h5.2M638.4 544.7v5.2M597.0 531.3h5.2M599.6 528.7v5.2M610.7 530.1h5.2M613.3 527.5v5.2M614.7 534.1h5.2M617.3 531.5v5.2M601.5 534.7h5.2M604.1 532.1v5.2M596.4 538.7h5.2M599.0 536.1v5.2M598.1 542.7h5.2M600.7 540.1v5.2M610.1 542.1h5.2M612.7 539.5v5.2M612.4 547.3h5.2M615.0 544.7v5.2M616.4 553.6h5.2M619.0 551.0v5.2M552.4 509.3h5.2M555.0 506.7v5.2M547.4 512.1h5.2M550.0 509.5v5.2M558.8 512.9h5.2M561.4 510.3v5.2M561.7 514.3h5.2M564.3 511.7v5.2M521.7 517.9h5.2M524.3 515.3v5.2M536.0 514.3h5.2M538.6 511.7v5.2M550.3 515.7h5.2M552.9 513.1v5.2M556.0 519.3h5.2M558.6 516.7v5.2M536.7 529.3h5.2M539.3 526.7v5.2M563.8 525.0h5.2M566.4 522.4v5.2M541.0 535.7h5.2M543.6 533.1v5.2M555.3 535.0h5.2M557.9 532.4v5.2M533.8 525.7h5.2M536.4 523.1v5.2M610.3 561.4h5.2M612.9 558.8v5.2M512.4 515.0h5.2M515.0 512.4v5.2M507.4 517.9h5.2M510.0 515.3v5.2M523.1 518.6h5.2M525.7 516.0v5.2M521.0 525.0h5.2M523.6 522.4v5.2M500.3 528.6h5.2M502.9 526.0v5.2M581.7 532.1h5.2M584.3 529.5v5.2M578.1 535.0h5.2M580.7 532.4v5.2M572.4 538.6h5.2M575.0 536.0v5.2M576.7 549.3h5.2M579.3 546.7v5.2M566.0 534.3h5.2M568.6 531.7v5.2M555.3 534.3h5.2M557.9 531.7v5.2M544.5 536.4h5.2M547.1 533.8v5.2M551.7 524.3h5.2M554.3 521.7v5.2M561.7 537.9h5.2M564.3 535.3v5.2M558.8 542.1h5.2M561.4 539.5v5.2M558.8 545.7h5.2M561.4 543.1v5.2M542.4 547.1h5.2M545.0 544.5v5.2M548.8 551.4h5.2M551.4 548.8v5.2M570.3 550.0h5.2M572.9 547.4v5.2M540.3 553.6h5.2M542.9 551.0v5.2M533.4 516.0h5.2M536.0 513.4v5.2M539.4 520.0h5.2M542.0 517.4v5.2M545.4 527.0h5.2M548.0 524.4v5.2M550.4 533.0h5.2M553.0 530.4v5.2M555.4 540.0h5.2M558.0 537.4v5.2M560.4 546.0h5.2M563.0 543.4v5.2M567.4 538.0h5.2M570.0 535.4v5.2M563.4 529.0h5.2M566.0 526.4v5.2M569.4 520.0h5.2M572.0 517.4v5.2M542.4 541.0h5.2M545.0 538.4v5.2M537.4 546.0h5.2M540.0 543.4v5.2M553.4 522.0h5.2M556.0 519.4v5.2M572.4 545.0h5.2M575.0 542.4v5.2M587.4 540.0h5.2M590.0 537.4v5.2M583.4 545.0h5.2M586.0 542.4v5.2M530.4 530.0h5.2M533.0 527.4v5.2M525.4 541.0h5.2M528.0 538.4v5.2M438.9 477.1l4 4M438.9 481.1l4 -4M465.1 484.6l4 4M465.1 488.6l4 -4M501.7 476.6l4 4M501.7 480.6l4 -4M493.1 514.3l4 4M493.1 518.3l4 -4M505.7 511.4l4 4M505.7 515.4l4 -4M546.7 499.1l4 4M546.7 503.1l4 -4M547.9 510.0l4 4M547.9 514.0l4 -4M577.9 512.3l4 4M577.9 516.3l4 -4M503.9 547.9l4 4M503.9 551.9l4 -4M509.0 549.0l4 4M509.0 553.0l4 -4M485.0 546.7l4 4M485.0 550.7l4 -4M527.3 553.0l4 4M527.3 557.0l4 -4M521.6 543.9l4 4M521.6 547.9l4 -4M591.6 523.3l4 4M591.6 527.3l4 -4M540.1 539.3l4 4M540.1 543.3l4 -4" fill="none" stroke="#000" stroke-width="1.4"/>
<path d="M511.5 418.8a2.5 2.5 0 1 0 5 0a2.5 2.5 0 1 0 -5 0M500.6 483.1a2.5 2.5 0 1 0 5 0a2.5 2.5 0 1 0 -5 0M501.2 492.3a2.5 2.5 0 1 0 5 0a2.5 2.5 0 1 0 -5 0M501.2 494.6a2.5 2.5 0 1 0 5 0a2.5 2.5 0 1 0 -5 0M492.6 510.6a2.5 2.5 0 1 0 5 0a2.5 2.5 0 1 0 -5 0M482.9 516.9a2.5 2.5 0 1 0 5 0a2.5 2.5 0 1 0 -5 0M513.6 495.4a2.5 2.5 0 1 0 5 0a2.5 2.5 0 1 0 -5 0M513.6 500.6a2.5 2.5 0 1 0 5 0a2.5 2.5 0 1 0 -5 0M515.9 502.3a2.5 2.5 0 1 0 5 0a2.5 2.5 0 1 0 -5 0M523.9 502.9a2.5 2.5 0 1 0 5 0a2.5 2.5 0 1 0 -5 0M529.1 501.1a2.5 2.5 0 1 0 5 0a2.5 2.5 0 1 0 -5 0M539.4 500.0a2.5 2.5 0 1 0 5 0a2.5 2.5 0 1 0 -5 0M552.5 498.9a2.5 2.5 0 1 0 5 0a2.5 2.5 0 1 0 -5 0M565.6 504.0a2.5 2.5 0 1 0 5 0a2.5 2.5 0 1 0 -5 0M525.6 510.3a2.5 2.5 0 1 0 5 0a2.5 2.5 0 1 0 -5 0M515.9 513.1a2.5 2.5 0 1 0 5 0a2.5 2.5 0 1 0 -5 0M539.4 509.1a2.5 2.5 0 1 0 5 0a2.5 2.5 0 1 0 -5 0M567.4 513.1a2.5 2.5 0 1 0 5 0a2.5 2.5 0 1 0 -5 0M497.1 522.3a2.5 2.5 0 1 0 5 0a2.5 2.5 0 1 0 -5 0M500.5 520.0a2.5 2.5 0 1 0 5 0a2.5 2.5 0 1 0 -5 0M503.9 521.1a2.5 2.5 0 1 0 5 0a2.5 2.5 0 1 0 -5 0M513.6 518.9a2.5 2.5 0 1 0 5 0a2.5 2.5 0 1 0 -5 0M518.2 520.6a2.5 2.5 0 1 0 5 0a2.5 2.5 0 1 0 -5 0M525.6 523.4a2.5 2.5 0 1 0 5 0a2.5 2.5 0 1 0 -5 0M532.5 520.6a2.5 2.5 0 1 0 5 0a2.5 2.5 0 1 0 -5 0M536.5 521.1a2.5 2.5 0 1 0 5 0a2.5 2.5 0 1 0 -5 0M542.8 516.6a2.5 2.5 0 1 0 5 0a2.5 2.5 0 1 0 -5 0M511.4 526.9a2.5 2.5 0 1 0 5 0a2.5 2.5 0 1 0 -5 0M567.9 524.6a2.5 2.5 0 1 0 5 0a2.5 2.5 0 1 0 -5 0M573.9 517.1a2.5 2.5 0 1 0 5 0a2.5 2.5 0 1 0 -5 0M583.1 522.3a2.5 2.5 0 1 0 5 0a2.5 2.5 0 1 0 -5 0M585.4 525.7a2.5 2.5 0 1 0 5 0a2.5 2.5 0 1 0 -5 0M589.9 524.0a2.5 2.5 0 1 0 5 0a2.5 2.5 0 1 0 -5 0M568.8 524.0a2.5 2.5 0 1 0 5 0a2.5 2.5 0 1 0 -5 0M573.9 524.0a2.5 2.5 0 1 0 5 0a2.5 2.5 0 1 0 -5 0M481.6 523.0a2.5 2.5 0 1 0 5 0a2.5 2.5 0 1 0 -5 0M479.9 527.0a2.5 2.5 0 1 0 5 0a2.5 2.5 0 1 0 -5 0M494.2 528.1a2.5 2.5 0 1 0 5 0a2.5 2.5 0 1 0 -5 0M494.8 530.4a2.5 2.5 0 1 0 5 0a2.5 2.5 0 1 0 -5 0M507.9 532.1a2.5 2.5 0 1 0 5 0a2.5 2.5 0 1 0 -5 0M507.9 537.3a2.5 2.5 0 1 0 5 0a2.5 2.5 0 1 0 -5 0M511.9 527.0a2.5 2.5 0 1 0 5 0a2.5 2.5 0 1 0 -5 0M513.6 533.3a2.5 2.5 0 1 0 5 0a2.5 2.5 0 1 0 -5 0M514.8 539.6a2.5 2.5 0 1 0 5 0a2.5 2.5 0 1 0 -5 0M513.1 545.3a2.5 2.5 0 1 0 5 0a2.5 2.5 0 1 0 -5 0M501.1 545.3a2.5 2.5 0 1 0 5 0a2.5 2.5 0 1 0 -5 0M492.5 553.9a2.5 2.5 0 1 0 5 0a2.5 2.5 0 1 0 -5 0M523.4 536.7a2.5 2.5 0 1 0 5 0a2.5 2.5 0 1 0 -5 0M522.2 535.6a2.5 2.5 0 1 0 5 0a2.5 2.5 0 1 0 -5 0M523.9 540.7a2.5 2.5 0 1 0 5 0a2.5 2.5 0 1 0 -5 0M528.5 545.9a2.5 2.5 0 1 0 5 0a2.5 2.5 0 1 0 -5 0M528.5 551.6a2.5 2.5 0 1 0 5 0a2.5 2.5 0 1 0 -5 0M513.6 519.6a2.5 2.5 0 1 0 5 0a2.5 2.5 0 1 0 -5 0M518.8 521.3a2.5 2.5 0 1 0 5 0a2.5 2.5 0 1 0 -5 0M525.6 524.1a2.5 2.5 0 1 0 5 0a2.5 2.5 0 1 0 -5 0M531.4 520.7a2.5 2.5 0 1 0 5 0a2.5 2.5 0 1 0 -5 0M536.2 555.0a2.5 2.5 0 1 0 5 0a2.5 2.5 0 1 0 -5 0M556.8 549.3a2.5 2.5 0 1 0 5 0a2.5 2.5 0 1 0 -5 0M577.4 543.0a2.5 2.5 0 1 0 5 0a2.5 2.5 0 1 0 -5 0M583.1 521.9a2.5 2.5 0 1 0 5 0a2.5 2.5 0 1 0 -5 0M585.4 525.9a2.5 2.5 0 1 0 5 0a2.5 2.5 0 1 0 -5 0M586.5 537.9a2.5 2.5 0 1 0 5 0a2.5 2.5 0 1 0 -5 0M587.6 539.6a2.5 2.5 0 1 0 5 0a2.5 2.5 0 1 0 -5 0M573.9 517.3a2.5 2.5 0 1 0 5 0a2.5 2.5 0 1 0 -5 0M568.2 524.1a2.5 2.5 0 1 0 5 0a2.5 2.5 0 1 0 -5 0M573.9 524.1a2.5 2.5 0 1 0 5 0a2.5 2.5 0 1 0 -5 0M572.8 531.0a2.5 2.5 0 1 0 5 0a2.5 2.5 0 1 0 -5 0M532.8 520.7a2.5 2.5 0 1 0 5 0a2.5 2.5 0 1 0 -5 0M536.8 521.3a2.5 2.5 0 1 0 5 0a2.5 2.5 0 1 0 -5 0M527.1 525.3a2.5 2.5 0 1 0 5 0a2.5 2.5 0 1 0 -5 0M537.4 539.6a2.5 2.5 0 1 0 5 0a2.5 2.5 0 1 0 -5 0M528.2 545.9a2.5 2.5 0 1 0 5 0a2.5 2.5 0 1 0 -5 0M528.2 550.4a2.5 2.5 0 1 0 5 0a2.5 2.5 0 1 0 -5 0M540.8 529.9a2.5 2.5 0 1 0 5 0a2.5 2.5 0 1 0 -5 0M549.9 531.0a2.5 2.5 0 1 0 5 0a2.5 2.5 0 1 0 -5 0M554.5 524.1a2.5 2.5 0 1 0 5 0a2.5 2.5 0 1 0 -5 0M559.1 528.7a2.5 2.5 0 1 0 5 0a2.5 2.5 0 1 0 -5 0M548.8 542.4a2.5 2.5 0 1 0 5 0a2.5 2.5 0 1 0 -5 0M559.1 541.3a2.5 2.5 0 1 0 5 0a2.5 2.5 0 1 0 -5 0M568.2 544.7a2.5 2.5 0 1 0 5 0a2.5 2.5 0 1 0 -5 0M524.8 533.3a2.5 2.5 0 1 0 5 0a2.5 2.5 0 1 0 -5 0M523.6 518.4a2.5 2.5 0 1 0 5 0a2.5 2.5 0 1 0 -5 0M543.1 534.4a2.5 2.5 0 1 0 5 0a2.5 2.5 0 1 0 -5 0M525.4 510.4a2.5 2.5 0 1 0 5 0a2.5 2.5 0 1 0 -5 0M538.9 508.9a2.5 2.5 0 1 0 5 0a2.5 2.5 0 1 0 -5 0M566.1 514.3a2.5 2.5 0 1 0 5 0a2.5 2.5 0 1 0 -5 0M518.9 512.1a2.5 2.5 0 1 0 5 0a2.5 2.5 0 1 0 -5 0M518.2 520.7a2.5 2.5 0 1 0 5 0a2.5 2.5 0 1 0 -5 0M526.1 524.3a2.5 2.5 0 1 0 5 0a2.5 2.5 0 1 0 -5 0M532.5 520.4a2.5 2.5 0 1 0 5 0a2.5 2.5 0 1 0 -5 0M536.4 520.7a2.5 2.5 0 1 0 5 0a2.5 2.5 0 1 0 -5 0M541.1 516.4a2.5 2.5 0 1 0 5 0a2.5 2.5 0 1 0 -5 0M546.1 524.3a2.5 2.5 0 1 0 5 0a2.5 2.5 0 1 0 -5 0M541.1 528.6a2.5 2.5 0 1 0 5 0a2.5 2.5 0 1 0 -5 0M550.4 531.4a2.5 2.5 0 1 0 5 0a2.5 2.5 0 1 0 -5 0M558.9 527.9a2.5 2.5 0 1 0 5 0a2.5 2.5 0 1 0 -5 0M561.8 531.4a2.5 2.5 0 1 0 5 0a2.5 2.5 0 1 0 -5 0M521.8 535.7a2.5 2.5 0 1 0 5 0a2.5 2.5 0 1 0 -5 0M528.2 536.4a2.5 2.5 0 1 0 5 0a2.5 2.5 0 1 0 -5 0M546.1 534.3a2.5 2.5 0 1 0 5 0a2.5 2.5 0 1 0 -5 0M563.9 535.0a2.5 2.5 0 1 0 5 0a2.5 2.5 0 1 0 -5 0M513.2 500.4a2.5 2.5 0 1 0 5 0a2.5 2.5 0 1 0 -5 0M516.1 502.1a2.5 2.5 0 1 0 5 0a2.5 2.5 0 1 0 -5 0M516.1 512.9a2.5 2.5 0 1 0 5 0a2.5 2.5 0 1 0 -5 0M518.2 516.4a2.5 2.5 0 1 0 5 0a2.5 2.5 0 1 0 -5 0M513.2 519.3a2.5 2.5 0 1 0 5 0a2.5 2.5 0 1 0 -5 0M518.2 521.4a2.5 2.5 0 1 0 5 0a2.5 2.5 0 1 0 -5 0M511.1 526.4a2.5 2.5 0 1 0 5 0a2.5 2.5 0 1 0 -5 0M493.9 527.1a2.5 2.5 0 1 0 5 0a2.5 2.5 0 1 0 -5 0M567.5 523.6a2.5 2.5 0 1 0 5 0a2.5 2.5 0 1 0 -5 0M573.9 523.6a2.5 2.5 0 1 0 5 0a2.5 2.5 0 1 0 -5 0M571.1 527.1a2.5 2.5 0 1 0 5 0a2.5 2.5 0 1 0 -5 0M573.2 531.4a2.5 2.5 0 1 0 5 0a2.5 2.5 0 1 0 -5 0M583.2 522.1a2.5 2.5 0 1 0 5 0a2.5 2.5 0 1 0 -5 0M585.4 525.7a2.5 2.5 0 1 0 5 0a2.5 2.5 0 1 0 -5 0M576.8 542.9a2.5 2.5 0 1 0 5 0a2.5 2.5 0 1 0 -5 0M586.8 537.1a2.5 2.5 0 1 0 5 0a2.5 2.5 0 1 0 -5 0M586.8 542.9a2.5 2.5 0 1 0 5 0a2.5 2.5 0 1 0 -5 0M558.9 527.9a2.5 2.5 0 1 0 5 0a2.5 2.5 0 1 0 -5 0M561.8 532.1a2.5 2.5 0 1 0 5 0a2.5 2.5 0 1 0 -5 0M541.1 528.6a2.5 2.5 0 1 0 5 0a2.5 2.5 0 1 0 -5 0M545.4 525.0a2.5 2.5 0 1 0 5 0a2.5 2.5 0 1 0 -5 0M550.4 531.4a2.5 2.5 0 1 0 5 0a2.5 2.5 0 1 0 -5 0M540.4 537.9a2.5 2.5 0 1 0 5 0a2.5 2.5 0 1 0 -5 0M549.6 543.6a2.5 2.5 0 1 0 5 0a2.5 2.5 0 1 0 -5 0M538.2 522.1a2.5 2.5 0 1 0 5 0a2.5 2.5 0 1 0 -5 0M567.5 543.6a2.5 2.5 0 1 0 5 0a2.5 2.5 0 1 0 -5 0M557.5 548.6a2.5 2.5 0 1 0 5 0a2.5 2.5 0 1 0 -5 0" fill="none" stroke="#000" stroke-width="1.35"/>
</svg></body></html>
